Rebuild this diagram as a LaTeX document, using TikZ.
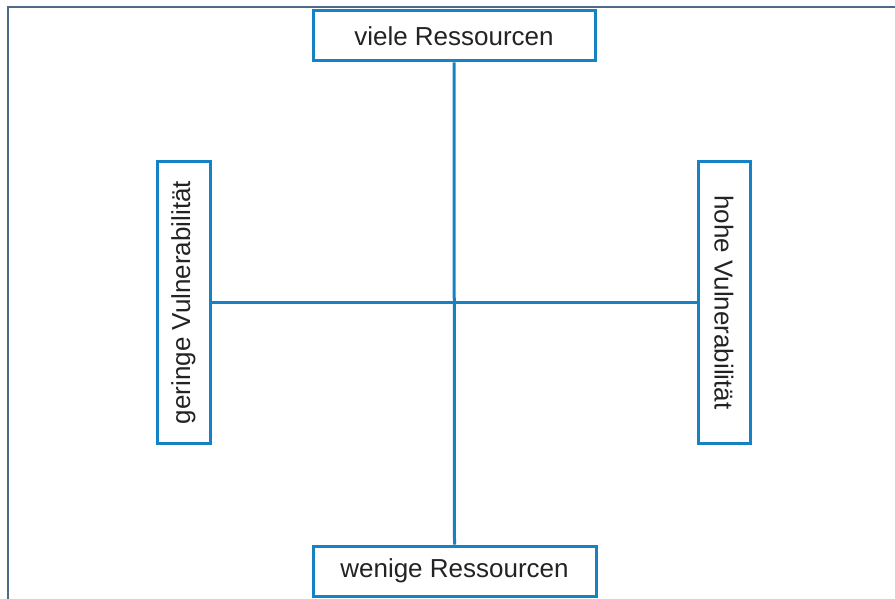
\documentclass[tikz,border=0pt]{standalone}
\usepackage{fontspec}
\setmainfont{Liberation Sans}
\definecolor{boxblue}{RGB}{22,130,196}
\definecolor{framecol}{RGB}{80,105,135}
\definecolor{txt}{RGB}{35,35,35}
\begin{document}
\begin{tikzpicture}[x=1bp,y=-1bp,
  lbl/.style={draw=boxblue,line width=3bp,fill=white,inner sep=0pt,text=txt,
    font=\fontsize{26bp}{30bp}\selectfont},
  axis/.style={draw=boxblue,line width=3bp}]
\useasboundingbox (0,0) rectangle (895,599);
\draw[framecol,line width=1.5bp] (8,599) -- (8,7) -- (895,7);
\node[lbl,minimum width=282bp,minimum height=50bp] (top) at (454,36) {viele Ressourcen};
\node[lbl,minimum width=283bp,minimum height=50bp] (bot) at (454.5,571) {wenige Ressourcen};
\node[lbl,rotate=90,minimum width=281bp,minimum height=53bp] (left) at (183.5,302.5) {geringe Vulnerabilität};
\node[lbl,rotate=-90,minimum width=281bp,minimum height=52bp] (right) at (724,302.5) {hohe Vulnerabilität};
\draw[axis] (top.south) -- (bot.north);
\draw[axis] (left.south) -- (right.south);
\end{tikzpicture}
\end{document}
